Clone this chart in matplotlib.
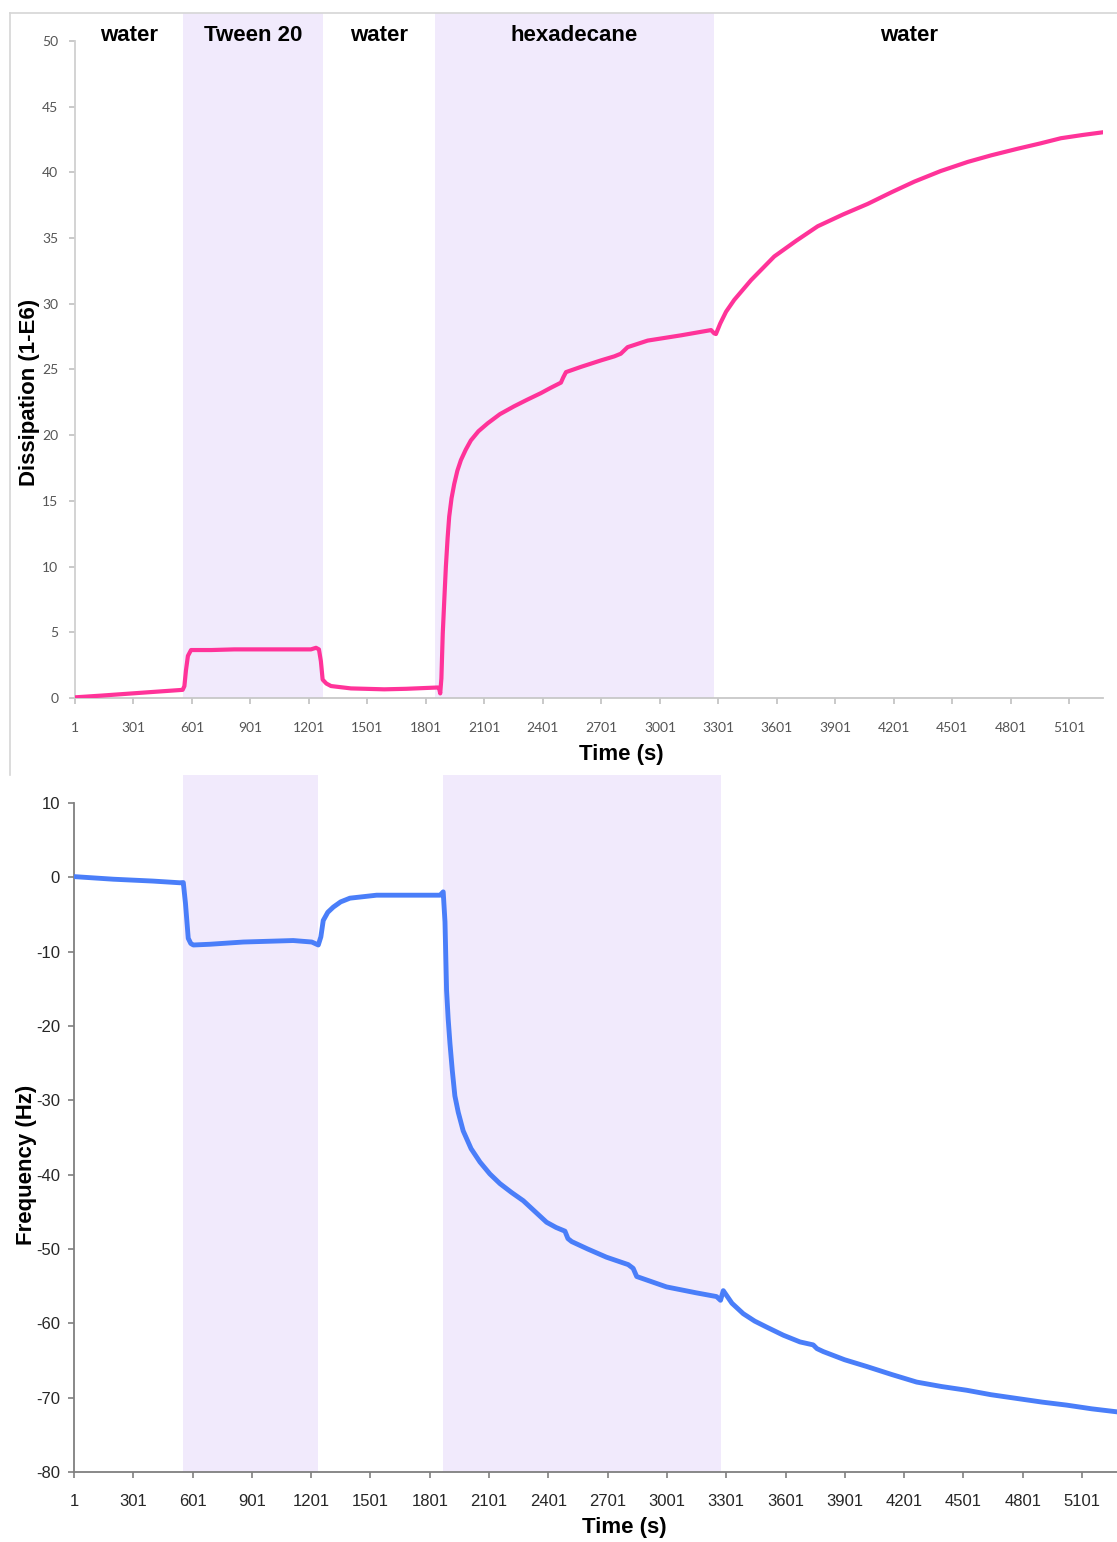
import matplotlib
matplotlib.use("Agg")
import matplotlib.pyplot as plt
from matplotlib.lines import Line2D

plt.rcParams["axes.unicode_minus"] = False

# QCM-D run: dissipation (top) and frequency (bottom) against time
diss_t = [1, 134, 390, 553, 562, 570, 580, 596, 700, 818, 1000, 1211, 1237, 1252, 1262, 1271, 1290,
          1314, 1416, 1587, 1700, 1861, 1868, 1874, 1880, 1887, 1895, 1903, 1912, 1920, 1932, 1946,
          1962, 1980, 2005, 2031, 2070, 2117, 2180, 2253, 2320, 2390, 2440, 2493, 2505, 2519, 2596,
          2700, 2767, 2800, 2835, 2938, 3109, 3263, 3279, 3288, 3310, 3340, 3382, 3468, 3587, 3700,
          3810, 3940, 4066, 4190, 4306, 4440, 4580, 4700, 4835, 4950, 5057, 5170, 5271]
diss_v = [0.05, 0.18, 0.45, 0.62, 0.9, 2.1, 3.2, 3.65, 3.65, 3.7, 3.7, 3.7, 3.82, 3.7, 2.8, 1.4, 1.1,
          0.91, 0.73, 0.66, 0.7, 0.8, 0.75, 0.35, 1.5, 4.9, 7.5, 10.0, 12.2, 13.8, 15.2, 16.3,
          17.3, 18.1, 18.9, 19.6, 20.3, 20.9, 21.6, 22.2, 22.7, 23.2, 23.6, 24.0, 24.4, 24.8, 25.2,
          25.7, 26.0, 26.2, 26.7, 27.2, 27.6, 28.0, 27.75, 27.7, 28.5, 29.4, 30.3, 31.8, 33.6, 34.8,
          35.9, 36.8, 37.6, 38.5, 39.3, 40.1, 40.8, 41.3, 41.8, 42.2, 42.6, 42.85, 43.05]

freq_t = [1, 200, 400, 537, 554, 565, 579, 592, 605, 689, 858, 1110, 1204, 1237, 1250, 1262, 1285,
          1313, 1350, 1397, 1532, 1700, 1853, 1869, 1878, 1886, 1894, 1903, 1915, 1928, 1945, 1970,
          2010, 2055, 2105, 2156, 2215, 2274, 2335, 2392, 2440, 2485, 2500, 2519, 2600, 2695, 2805,
          2830, 2848, 2999, 3150, 3252, 3272, 3286, 3330, 3387, 3445, 3505, 3590, 3674, 3741, 3760,
          3792, 3900, 4011, 4140, 4264, 4390, 4517, 4640, 4770, 4900, 5023, 5150, 5276]
freq_v = [0.1, -0.25, -0.5, -0.73, -0.7, -3.5, -8.2, -8.9, -9.1, -9.0, -8.7, -8.5, -8.7, -9.1, -8.0,
          -5.8, -4.7, -4.0, -3.3, -2.8, -2.4, -2.4, -2.4, -1.95, -6.0, -15.2, -19.0, -22.3, -26.0,
          -29.4, -31.6, -34.1, -36.5, -38.3, -39.9, -41.2, -42.4, -43.5, -45.0, -46.4, -47.1, -47.6,
          -48.6, -49.0, -50.0, -51.1, -52.1, -52.6, -53.7, -55.1, -55.9, -56.4, -56.9, -55.6, -57.3,
          -58.7, -59.7, -60.5, -61.6, -62.5, -62.9, -63.4, -63.8, -64.9, -65.8, -66.9, -67.9, -68.5,
          -69.0, -69.6, -70.1, -70.6, -71.0, -71.5, -71.9]

# injection periods (s)
top_shades = [(557, 1275), (1845, 3280)]
bot_shades = [(552, 1235), (1868, 3274)]
phase_names = ["water", "Tween 20", "water", "hexadecane", "water"]
phase_edges = [1, 557, 1275, 1845, 3280, 5273]

xticks = list(range(1, 5102, 300))
top_yticks = list(range(0, 51, 5))
bot_yticks = list(range(-80, 11, 10))

shade = "#f1eafc"
W, H = 1117, 1542
fig = plt.figure(figsize=(W / 100, H / 100), dpi=100)

# ---- top panel (dissipation)
ax1 = fig.add_axes([75 / W, 1 - 698 / H, 1028 / W, 685 / H])
for a, b in top_shades:
    ax1.axvspan(a, b, color=shade, lw=0, zorder=0)
ax1.plot(diss_t, diss_v, color="#ff3399", lw=3, zorder=3, solid_joinstyle="round")
ax1.set_xlim(1, 5273)
ax1.set_ylim(0, 52.13)
ax1.set_xticks(xticks)
ax1.set_yticks(top_yticks)
for s in ["top", "right"]:
    ax1.spines[s].set_visible(False)
ax1.spines["left"].set_bounds(0, 50)
ax1.spines["left"].set_color("#d0d0d0")
ax1.spines["bottom"].set_color("#c8c8c8")
ax1.spines["left"].set_linewidth(1.3)
ax1.spines["bottom"].set_linewidth(1.3)
ax1.tick_params(axis="both", colors="#c0c0c0", length=4, width=1.2)
ax1.tick_params(axis="x", pad=13, labelcolor="#555555", labelsize=10)
ax1.tick_params(axis="y", pad=8, labelcolor="#555555", labelsize=10)
for lab in ax1.get_xticklabels() + ax1.get_yticklabels():
    lab.set_family("Lato")

for i, name in enumerate(phase_names):
    xc = (phase_edges[i] + phase_edges[i + 1]) / 2
    ax1.text(xc, 50.4, name, ha="center", va="center", fontsize=16, fontweight="bold",
             family="Liberation Sans")

# light frame around the top chart
fig.add_artist(Line2D([10 / W, 10 / W], [1 - 13 / H, 1 - 775 / H], color="#d6d6d6", lw=1.2))
fig.add_artist(Line2D([10 / W, 1.0], [1 - 13 / H, 1 - 13 / H], color="#d6d6d6", lw=1.2))

# ---- bottom panel (frequency)
ax2 = fig.add_axes([74 / W, 1 - 1472 / H, 1043 / W, 697 / H])
for a, b in bot_shades:
    ax2.axvspan(a, b, color=shade, lw=0, zorder=0)
ax2.plot(freq_t, freq_v, color="#4a7ef9", lw=3.5, zorder=3, solid_joinstyle="round")
ax2.set_xlim(1, 5278)
ax2.set_ylim(-80, 13.77)
ax2.set_xticks(xticks)
ax2.set_yticks(bot_yticks)
for s in ["top", "right"]:
    ax2.spines[s].set_visible(False)
ax2.spines["left"].set_bounds(-80, 10)
ax2.spines["left"].set_color("#7f7f7f")
ax2.spines["bottom"].set_color("#7f7f7f")
ax2.spines["left"].set_linewidth(1.3)
ax2.spines["bottom"].set_linewidth(1.3)
ax2.tick_params(axis="both", colors="#7f7f7f", length=4, width=1.2)
ax2.tick_params(axis="x", pad=12, labelcolor="#262626", labelsize=12)
ax2.tick_params(axis="y", pad=6, labelcolor="#262626", labelsize=12)
for lab in ax2.get_xticklabels() + ax2.get_yticklabels():
    lab.set_family("Liberation Sans")

# axis titles
lbl = dict(fontsize=16, fontweight="bold", family="Liberation Sans", ha="center", va="center")
fig.text(621 / W, 1 - 754 / H, "Time (s)", **lbl)
fig.text(624 / W, 1 - 1528 / H, "Time (s)", **lbl)
fig.text(30 / W, 1 - 392 / H, "Dissipation (1-E6)", rotation=90, **lbl)
fig.text(27 / W, 1 - 1165 / H, "Frequency (Hz)", rotation=90, **lbl)

fig.savefig("out.png", dpi=100)
